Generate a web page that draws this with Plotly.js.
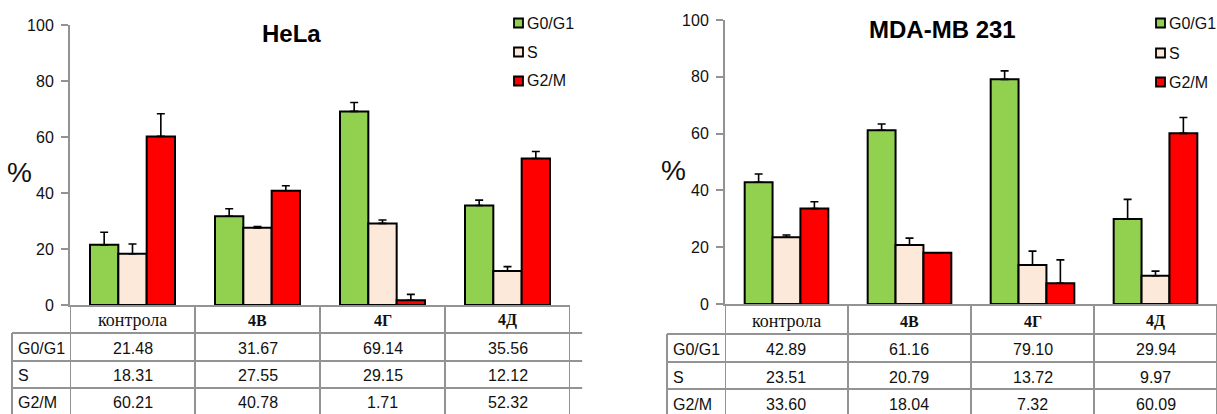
<!DOCTYPE html>
<html>
<head>
<meta charset="utf-8">
<script src="https://cdn.plot.ly/plotly-3.0.1.min.js"></script>
<style>html,body{margin:0;padding:0;background:#fff;}#chart{width:1217px;height:414px;}</style>
</head>
<body>
<div id="chart"></div>
<script>
// ---- data ----
const categories = ['контрола', '4В', '4Г', '4Д'];
const phases = ['G0/G1', 'S', 'G2/M'];
const phaseColors = ['#92d050', '#fde9d9', '#ff0000'];

const helaG0G1 = [21.48, 31.67, 69.14, 35.56];
const helaS    = [18.31, 27.55, 29.15, 12.12];
const helaG2M  = [60.21, 40.78, 1.71, 52.32];
const helaErrG0G1 = [4.5, 2.7, 3.2, 1.9];
const helaErrS    = [3.5, 0.5, 1.2, 1.6];
const helaErrG2M  = [8.1, 1.8, 2.1, 2.5];

const mdaG0G1 = [42.89, 61.16, 79.10, 29.94];
const mdaS    = [23.51, 20.79, 13.72, 9.97];
const mdaG2M  = [33.60, 18.04, 7.32, 60.09];
const mdaErrG0G1 = [2.9, 2.2, 3.0, 6.9];
const mdaErrS    = [0.8, 2.4, 4.9, 1.6];
const mdaErrG2M  = [2.4, 0, 8.2, 5.6];

const yTicks = [0, 20, 40, 60, 80, 100];

// ---- layout helpers ----
const W = 1217, H = 414;
const px = x => x / W;
const py = y => 1 - y / H;
const GRID = '#939393';
const SANS = 'Arial, "Liberation Sans", sans-serif';
const SERIF = '"Times New Roman", "Liberation Serif", serif';

const panels = [
  { title: 'HeLa', xa: 'x', ya: 'y', series: [helaG0G1, helaS, helaG2M], errs: [helaErrG0G1, helaErrS, helaErrG2M],
    axisX: 70, rightX: 570, zeroY: 305, topY: 25, tableLeft: 12, rowLines: [333, 361, 388],
    headerY: 320, rowY: [348, 375, 402], rowLabelX: 16, titleX: 291, titleY: 33, pctX: 19, pctY: 172,
    legX: 514, legTextX: 525, legY: [23, 52, 81] },
  { title: 'MDA-MB 231', xa: 'x2', ya: 'y2', series: [mdaG0G1, mdaS, mdaG2M], errs: [mdaErrG0G1, mdaErrS, mdaErrG2M],
    axisX: 725, rightX: 1217, zeroY: 304, topY: 20, tableLeft: 667, rowLines: [334, 362, 389],
    headerY: 321, rowY: [349, 377, 404], rowLabelX: 671, titleX: 942, titleY: 30, pctX: 673, pctY: 170,
    legX: 1156, legTextX: 1167, legY: [23, 53, 82] }
];

const traces = [];
const shapes = [];
const annotations = [];
const layout = {
  width: W, height: H,
  margin: { l: 0, r: 0, t: 0, b: 0, pad: 0 },
  paper_bgcolor: '#fff', plot_bgcolor: 'rgba(0,0,0,0)',
  barmode: 'group', bargap: 0.32, bargroupgap: 0,
  showlegend: false,
  font: { family: SANS, color: '#111' },
  shapes: shapes, annotations: annotations
};

panels.forEach((p, pi) => {
  const sfx = pi === 0 ? '' : '2';
  layout['xaxis' + sfx] = {
    domain: [px(p.axisX), px(p.rightX)], anchor: p.ya, type: 'category',
    categoryarray: categories, range: [-0.5, 3.5],
    showline: true, linecolor: GRID, linewidth: 2, ticks: '', showticklabels: false,
    showgrid: false, zeroline: false, fixedrange: true
  };
  layout['yaxis' + sfx] = {
    domain: [py(p.zeroY), py(p.topY)], anchor: p.xa, range: [0, 100],
    tickvals: yTicks, ticktext: yTicks.map(String),
    ticks: 'outside', ticklen: 7, tickwidth: 2, tickcolor: GRID,
    showline: true, linecolor: GRID, linewidth: 2, showgrid: false, zeroline: false,
    tickfont: { size: 16, family: SANS, color: '#111' }, ticklabelstandoff: 4, fixedrange: true
  };

  p.series.forEach((vals, si) => {
    traces.push({
      type: 'bar', x: categories, y: vals, name: phases[si],
      xaxis: p.xa, yaxis: p.ya,
      marker: { color: phaseColors[si], line: { color: '#000', width: 2 } },
      error_y: { type: 'data', symmetric: false, array: p.errs[si], arrayminus: vals.map(() => 0),
                 color: '#000', thickness: 1.6, width: 4 },
      hoverinfo: 'skip'
    });
  });

  // title
  annotations.push({ xref: 'paper', yref: 'paper', x: px(p.titleX), y: py(p.titleY), xanchor: 'center', yanchor: 'middle',
    text: '<b>' + p.title + '</b>', showarrow: false, font: { size: 24, family: SANS, color: '#000' } });
  // y title
  annotations.push({ xref: 'paper', yref: 'paper', x: px(p.pctX), y: py(p.pctY), xanchor: 'center', yanchor: 'middle',
    text: '%', showarrow: false, font: { size: 28, family: SANS, color: '#111' } });

  // legend
  phases.forEach((ph, si) => {
    shapes.push({ type: 'rect', xref: 'paper', yref: 'paper', x0: px(p.legX), x1: px(p.legX + 9),
      y0: py(p.legY[si] + 4.5), y1: py(p.legY[si] - 4.5), fillcolor: phaseColors[si], line: { color: '#000', width: 1.8 } });
    annotations.push({ xref: 'paper', yref: 'paper', x: px(p.legTextX), y: py(p.legY[si]), xanchor: 'left', yanchor: 'middle',
      text: ph, showarrow: false, font: { size: 16, family: SANS, color: '#111' } });
  });

  // table grid
  shapes.push({ type: 'line', xref: 'paper', yref: 'paper', x0: px(p.tableLeft), x1: px(p.rightX) + 0.01,
    y0: py(p.rowLines[0]), y1: py(p.rowLines[0]), line: { color: GRID, width: 2 } });
  p.rowLines.slice(1).forEach(yl => {
    shapes.push({ type: 'line', xref: 'paper', yref: 'paper', x0: px(p.tableLeft), x1: px(p.rightX) + 0.01,
      y0: py(yl), y1: py(yl), line: { color: GRID, width: 2 } });
  });
  shapes.push({ type: 'line', xref: 'paper', yref: 'paper', x0: px(p.tableLeft), x1: px(p.tableLeft),
    y0: py(p.rowLines[0]), y1: -0.02, line: { color: GRID, width: 2 } });
  for (let k = 0; k <= categories.length; k++) {
    shapes.push({ type: 'line', xref: p.xa, yref: 'paper', x0: k - 0.5, x1: k - 0.5,
      y0: py(p.zeroY), y1: -0.02, line: { color: GRID, width: 2 } });
  }

  // header
  categories.forEach((c, ci) => {
    const isCtrl = ci === 0;
    annotations.push({ xref: p.xa, yref: 'paper', x: c, y: py(p.headerY), xanchor: 'center', yanchor: 'middle',
      text: isCtrl ? c : '<b>' + c + '</b>', showarrow: false,
      font: { size: isCtrl ? 18 : 16, family: SERIF, color: '#111' } });
  });
  // rows
  p.series.forEach((vals, si) => {
    annotations.push({ xref: 'paper', yref: 'paper', x: px(p.rowLabelX), y: py(p.rowY[si]), xanchor: 'left', yanchor: 'middle',
      text: phases[si], showarrow: false, font: { size: 16, family: SANS, color: '#111' } });
    vals.forEach((v, ci) => {
      annotations.push({ xref: p.xa, yref: 'paper', x: categories[ci], y: py(p.rowY[si]), xanchor: 'center', yanchor: 'middle',
        text: v.toFixed(2), showarrow: false, font: { size: 16, family: SANS, color: '#111' } });
    });
  });
});

Plotly.newPlot('chart', traces, layout, { displayModeBar: false, staticPlot: true });
</script>
</body>
</html>
